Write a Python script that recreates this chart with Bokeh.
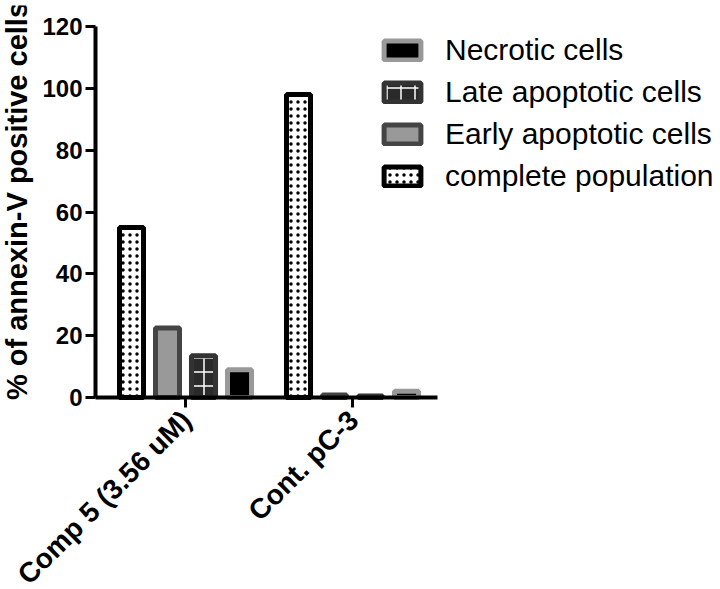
import math
from bokeh.plotting import figure
from bokeh.models import (ColumnDataSource, Range1d, FixedTicker, Legend, LegendItem)
from bokeh.core.properties import value
from bokeh.transform import dodge
from bokeh.embed import file_html
from bokeh.resources import INLINE

groups = ["Comp 5 (3.56 uM)", "Cont. pC-3"]
group_pos = [0, 1]
complete_population = [55.0, 98.0]
early_apoptotic = [22.5, 0.8]
late_apoptotic = [13.5, 0.5]
necrotic = [9.0, 2.0]
y_ticks = [0, 20, 40, 60, 80, 100, 120]
y_title = "% of annexin-V positive cells"

FONT = "Liberation Sans"

# ---- layout constants (canvas pixels) ----
H, WID = 589, 716
TOP_B, RIGHT_B = 5, 3          # tiny panels holding the (label-less) axes
Y_TOP_PX, Y0_PX = 26, 397      # canvas y of value 120 and of value 0
AXIS_X = 95                    # canvas x of the y axis line
PX_PER_GROUP = 167.0
X_AXIS_START, X_AXIS_END = -0.539, 1.509
Y_MIN, Y_MAX = 0, 120

ppu = (Y0_PX - Y_TOP_PX) / float(Y_MAX - Y_MIN)
y_end = Y_MAX + (Y_TOP_PX - TOP_B) / ppu
y_start = Y_MIN - (H - Y0_PX) / ppu
x_start = X_AXIS_START - AXIS_X / PX_PER_GROUP
x_end = x_start + (WID - RIGHT_B) / PX_PER_GROUP

src = ColumnDataSource(dict(x=group_pos, complete=complete_population,
                            early=early_apoptotic, late=late_apoptotic,
                            necrotic=necrotic))
xlab_src = ColumnDataSource(dict(x=group_pos, y=[Y_MIN] * len(group_pos), text=groups))
ylab_src = ColumnDataSource(dict(x=[X_AXIS_START] * len(y_ticks), y=y_ticks,
                                 text=[str(t) for t in y_ticks]))
ytitle_src = ColumnDataSource(dict(x=[X_AXIS_START], y=[(Y_MIN + Y_MAX) / 2.0],
                                   text=[y_title]))

p = figure(width=WID, height=H, output_backend="svg", toolbar_location=None,
           x_range=Range1d(x_start, x_end), y_range=Range1d(y_start, y_end),
           x_axis_location="above", y_axis_location="right",
           min_border_left=0, min_border_right=RIGHT_B, min_border_top=TOP_B,
           min_border_bottom=0)
p.outline_line_color = None
p.grid.visible = False
p.background_fill_color = "white"

W = 0.144
common = dict(source=src, width=W, line_width=5, bottom=0)
r_complete = p.vbar(x=dodge("x", -0.3234, range=p.x_range), top="complete",
                    fill_color="white", line_color="black",
                    hatch_pattern="dot", hatch_color="black", hatch_scale=7,
                    hatch_weight=1.5, **common)
r_early = p.vbar(x=dodge("x", -0.1078, range=p.x_range), top="early",
                 fill_color="#999999", line_color="#444444", **common)
r_late = p.vbar(x=dodge("x", 0.1078, range=p.x_range), top="late",
                fill_color="#2a2a2a", line_color="#333333",
                hatch_pattern="cross", hatch_color="white", hatch_scale=14,
                hatch_weight=1.5, **common)
r_necrotic = p.vbar(x=dodge("x", 0.3234, range=p.x_range), top="necrotic",
                    fill_color="black", line_color="#999999", **common)

# ---- axes (lines + ticks); their labels are drawn as text below ----
for ax in (p.xaxis[0], p.yaxis[0]):
    ax.axis_line_width = 4
    ax.axis_line_color = "black"
    ax.major_tick_line_width = 3
    ax.minor_tick_line_color = None
    ax.major_label_text_font_size = "1px"
    ax.major_label_text_alpha = 0
    ax.major_label_standoff = 0
    ax.major_tick_out = 0
    ax.major_tick_in = 10

p.xaxis[0].bounds = (X_AXIS_START, X_AXIS_END)
p.xaxis[0].fixed_location = Y_MIN
p.xaxis[0].ticker = FixedTicker(ticks=group_pos)
p.xaxis[0].major_label_overrides = {g: "" for g in group_pos}

p.yaxis[0].bounds = (Y_MIN, Y_MAX)
p.yaxis[0].fixed_location = X_AXIS_START
p.yaxis[0].ticker = FixedTicker(ticks=y_ticks)
p.yaxis[0].major_label_overrides = {t: "" for t in y_ticks}

txt = dict(text_font=value(FONT), text_font_style="bold", text_color="black")
p.text(x="x", y="y", text="text", source=ylab_src, text_align="right",
       text_baseline="middle", x_offset=-13, y_offset=0, text_font_size="24px", **txt)
p.text(x="x", y="y", text="text", source=ytitle_src, angle=math.pi / 2,
       text_align="center", text_baseline="middle", x_offset=-79, y_offset=-11,
       text_font_size="29px", **txt)
p.text(x="x", y="y", text="text", source=xlab_src, angle=math.pi / 4,
       text_align="right", text_baseline="top", x_offset=-10, y_offset=7,
       text_font_size="28px", **txt)

legend = Legend(items=[
    LegendItem(label="Necrotic cells", renderers=[r_necrotic]),
    LegendItem(label="Late apoptotic cells", renderers=[r_late]),
    LegendItem(label="Early apoptotic cells", renderers=[r_early]),
    LegendItem(label="complete population", renderers=[r_complete]),
])
legend.glyph_width = 46
legend.glyph_height = 24
legend.label_height = 30
legend.spacing = 8
legend.padding = 0
legend.margin = 0
legend.label_standoff = 20
legend.border_line_alpha = 0
legend.background_fill_alpha = 0
legend.label_text_font = FONT
legend.label_text_font_size = "30px"
legend.label_text_color = "black"
legend.location = (379, 396)
p.add_layout(legend)

open("out.html", "w").write(file_html(p, INLINE))
